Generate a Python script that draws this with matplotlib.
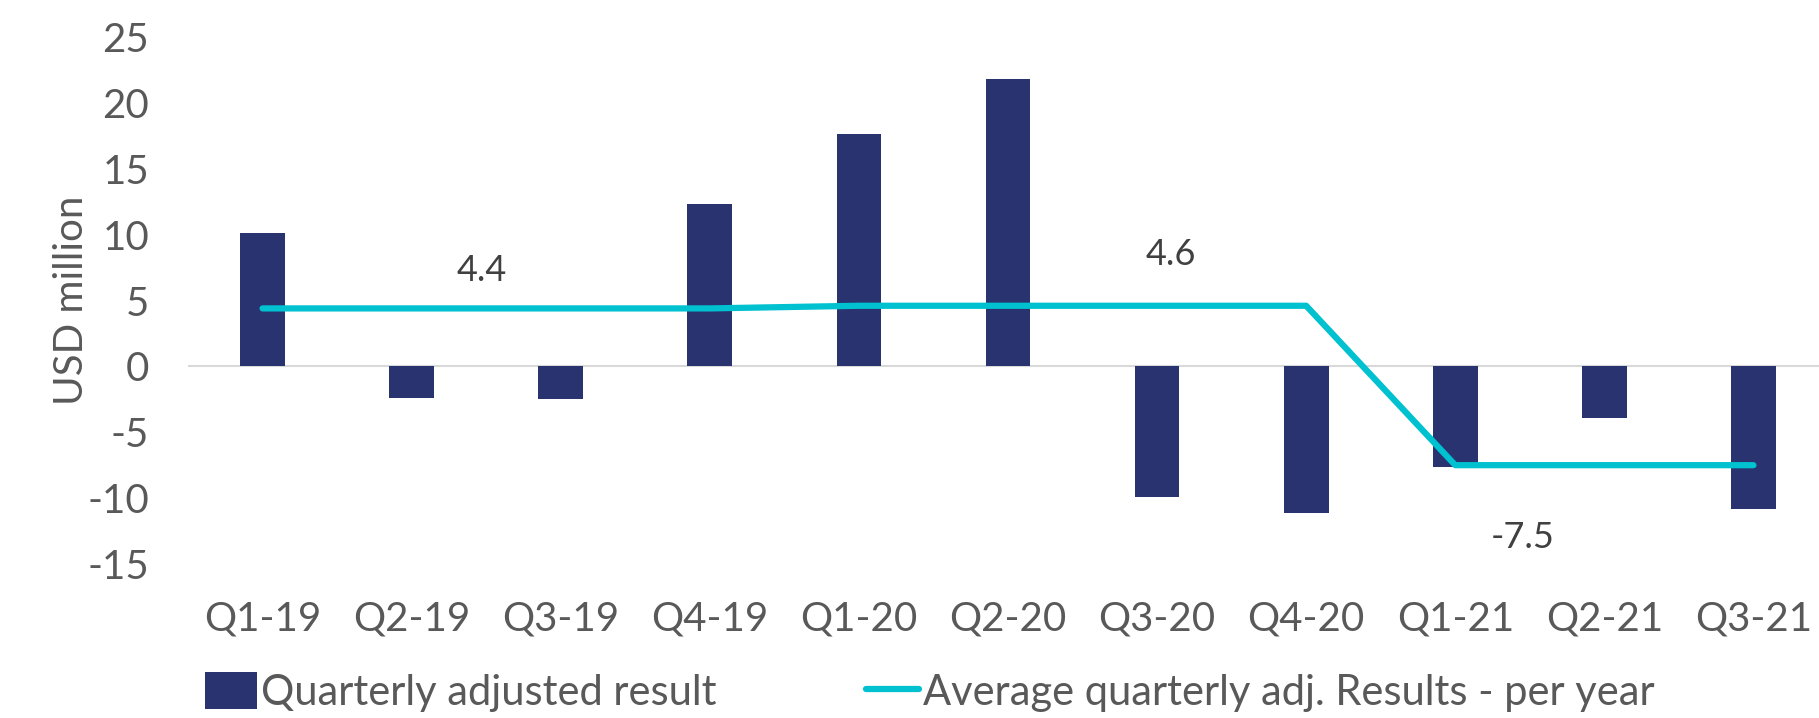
import matplotlib
matplotlib.use("Agg")
import matplotlib.pyplot as plt
import numpy as np

# ---- data ----
quarters = ["Q1-19", "Q2-19", "Q3-19", "Q4-19", "Q1-20", "Q2-20",
            "Q3-20", "Q4-20", "Q1-21", "Q2-21", "Q3-21"]
quarterly_result = [10.1, -2.4, -2.5, 12.3, 17.6, 21.8, -9.9, -11.1, -7.6, -3.9, -10.8]
yearly_average = [4.4, 4.4, 4.4, 4.4, 4.6, 4.6, 4.6, 4.6, -7.5, -7.5, -7.5]

# label text and where it sits (category index, value)
avg_labels = ["4.4", "4.6", "-7.5"]
avg_label_x = [1.47, 6.09, 8.45]
avg_label_y = [7.3, 8.5, -13.0]

BAR_COLOR = "#283370"
LINE_COLOR = "#00C1CF"
TEXT_COLOR = "#595959"

plt.rcParams["font.family"] = ["Lato", "DejaVu Sans"]
plt.rcParams["axes.unicode_minus"] = False

W, H = 1819, 718
fig = plt.figure(figsize=(W / 100, H / 100), dpi=100)
ax = fig.add_axes([188 / W, (H - 564) / H, (1828 - 188) / W, (564 - 37) / H])

x = np.arange(len(quarters))
bars = ax.bar(x, quarterly_result, width=0.30, color=BAR_COLOR, zorder=2)
line, = ax.plot(x, yearly_average, color=LINE_COLOR, lw=4.5, solid_capstyle="round",
                zorder=3)
ax.axhline(0, color="#D9D9D9", lw=1.5, zorder=1)

for t, lx, ly in zip(avg_labels, avg_label_x, avg_label_y):
    ax.text(lx, ly, t, ha="center", va="center", fontsize=26, color="#404040")

ax.set_xlim(-0.5, len(quarters) - 0.5)
ax.set_ylim(-15, 25)
ax.set_yticks(np.arange(-15, 26, 5))
ax.set_xticks(x)
ax.set_xticklabels(quarters)
ax.tick_params(length=0, labelsize=29, colors=TEXT_COLOR)
ax.tick_params(axis="x", pad=26)
ax.tick_params(axis="y", pad=28)
for s in ax.spines.values():
    s.set_visible(False)
ax.set_ylabel("USD million", fontsize=29, color=TEXT_COLOR, labelpad=-2)

fig.legend([bars, line],
           ["Quarterly adjusted result", "Average quarterly adj. Results - per year"],
           loc="center", bbox_to_anchor=(0.511, 0.036), ncol=2, frameon=False,
           fontsize=30, labelcolor=TEXT_COLOR, handlelength=1.25, handleheight=1.0,
           handletextpad=0.1, columnspacing=3.6)

fig.savefig("out.png", dpi=100)
